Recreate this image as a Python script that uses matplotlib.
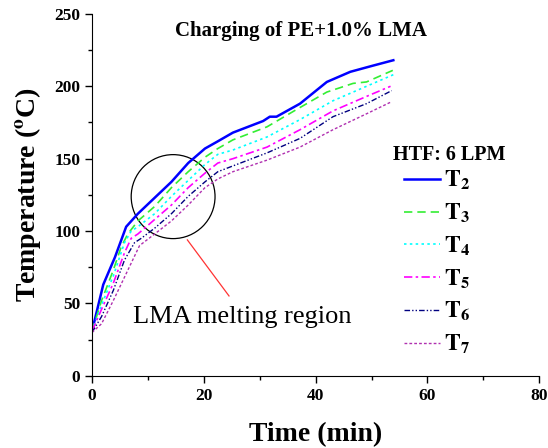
import matplotlib
matplotlib.use('Agg')
import matplotlib.pyplot as plt
from matplotlib.patches import Ellipse

plt.rcParams['font.family'] = 'Liberation Serif'
plt.rcParams['mathtext.fontset'] = 'stix'

# time (min) and temperatures (deg C)
t2 = [0, 2.0, 4.1, 6.1, 8.2, 11.2, 14.2, 17.2, 20.2, 22.5, 25.2, 30.6, 31.8, 33.0, 37.2, 42.0, 46.2, 50.0, 53.9]
T2 = [31, 63, 82, 103, 112, 123, 134, 147, 157, 162, 168, 176, 179, 179, 188, 203, 210, 214, 218]

t3 = [0, 1.7, 3.8, 5.2, 6.4, 8.2, 11.2, 14.2, 17.2, 20.2, 22.5, 25.2, 31.3, 36.6, 42.0, 46.7, 49.1, 53.8]
T3 = [31, 52, 73, 89, 98, 107, 117, 130, 141, 151, 157, 163, 172, 184, 196, 202, 203, 211]

t4 = [0, 1.7, 3.8, 5.8, 7.0, 8.2, 11.2, 14.2, 17.2, 20.2, 22.5, 25.2, 31.3, 37.2, 43.1, 49.1, 53.9]
T4 = [31, 49, 69, 92, 100, 103, 112, 124, 135, 146, 153, 156, 165, 177, 190, 200, 208]

t5 = [0, 1.7, 3.8, 5.8, 7.0, 8.2, 11.2, 14.2, 17.2, 20.2, 22.5, 25.2, 31.3, 37.2, 43.1, 49.1, 53.4]
T5 = [31, 46, 64, 85, 95, 98, 108, 118, 130, 140, 147, 150, 158, 170, 183, 193, 200]

t6 = [0, 1.7, 3.8, 5.8, 7.6, 8.8, 11.2, 14.2, 17.2, 20.2, 22.5, 25.2, 31.3, 37.2, 43.1, 49.1, 53.6]
T6 = [30, 41, 59, 80, 92, 95, 102, 112, 124, 134, 141, 145, 154, 164, 179, 188, 197]

t7 = [0, 1.7, 3.8, 6.4, 8.5, 11.2, 14.2, 17.2, 20.2, 22.5, 25.2, 31.3, 37.2, 43.1, 49.1, 53.4]
T7 = [30, 36, 52, 73, 90, 98, 107, 118, 130, 136, 141, 149, 158, 170, 181, 189]

fig = plt.figure(figsize=(5.48, 4.48), dpi=100)
ax = fig.add_axes([0.168, 0.161, 0.816, 0.808])

ax.plot(t2, T2, color='#0000ff', lw=1.8, ls='-', label=r'$\mathbf{T_2}$')
ax.plot(t3, T3, color='#33ee33', lw=1.2, ls=(0, (5, 3)), label=r'$\mathbf{T_3}$')
ax.plot(t4, T4, color='#00ffff', lw=1.2, ls=(0, (1.5, 2)), label=r'$\mathbf{T_4}$')
ax.plot(t5, T5, color='#ff00ff', lw=1.2, ls=(0, (5, 2, 1.5, 2)), label=r'$\mathbf{T_5}$')
ax.plot(t6, T6, color='#000080', lw=1.0, ls=(0, (4, 1.5, 1, 1.5, 1, 1.5)), label=r'$\mathbf{T_6}$')
ax.plot(t7, T7, color='#b030b0', lw=1.0, ls=(0, (2, 1.5)), label=r'$\mathbf{T_7}$')

ax.add_patch(Ellipse((14.5, 123.8), 15.0, 58.0, fill=False, ec='black', lw=0.9))
ax.plot([17.05, 24.5], [93.9, 55.2], color='#ff3333', lw=0.9)
ax.text(7.4, 41, 'LMA melting region', fontsize=19, va='center', ha='left')

ax.text(37.4, 238, 'Charging of PE+1.0% LMA', fontsize=15, fontweight='bold',
        ha='center', va='center')
ax.text(63.9, 152.6, 'HTF: 6 LPM', fontsize=14.5, fontweight='bold',
        ha='center', va='center')

ax.legend(loc='upper left', bbox_to_anchor=(0.698, 0.571), frameon=False,
          fontsize=17, handlelength=1.5, handletextpad=0.2,
          labelspacing=0.4, borderaxespad=0, borderpad=0)

ax.set_xlim(0, 80)
ax.set_ylim(0, 250)
ax.set_xticks([0, 20, 40, 60, 80])
ax.set_xticks([10, 30, 50, 70], minor=True)
ax.set_yticks([0, 50, 100, 150, 200, 250])
ax.set_yticks([25, 75, 125, 175, 225], minor=True)
ax.spines['top'].set_visible(False)
ax.spines['right'].set_visible(False)
ax.tick_params(which='major', direction='out', length=5, width=1, labelsize=12.5)
ax.tick_params(which='minor', direction='out', length=3, width=1)
for lbl in ax.get_xticklabels() + ax.get_yticklabels():
    lbl.set_fontweight('bold')

ax.set_xlabel('Time (min)', fontsize=20, fontweight='bold', labelpad=13)
ax.set_ylabel(r'Temperature ($\mathbf{^o}$C)', fontsize=20, fontweight='bold', labelpad=8)

fig.savefig('out.png', dpi=100)
